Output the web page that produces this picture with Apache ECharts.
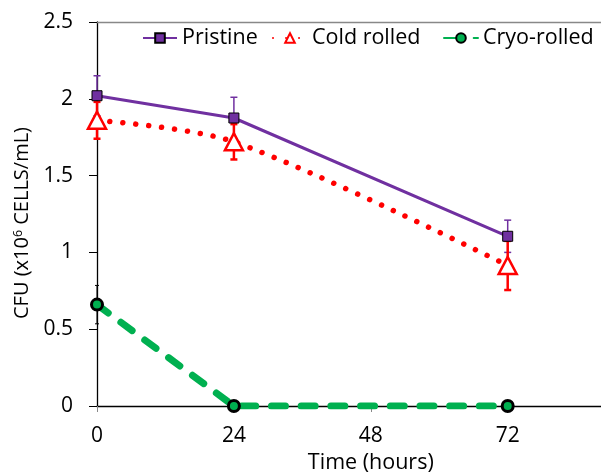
<!DOCTYPE html>
<html><head><meta charset="utf-8">
<script src="https://cdn.jsdelivr.net/npm/echarts@6/dist/echarts.min.js"></script>
<style>html,body{margin:0;padding:0;background:#fff}#c{width:601px;height:473px}</style>
</head><body><div id="c"></div>
<script>
// ---- data ----
const hours = [0, 24, 72];
const pristine = [2.02, 1.875, 1.105];
const pristineErr = [0.13, 0.135, 0.105];
const coldRolled = [1.86, 1.72, 0.915];
const coldErr = [0.12, 0.115, 0.16];
const cryo = [0.66, 0, 0];
const cryoErr = [0.125, 0, 0];
const xTicks = [0, 24, 48, 72];
const yTicks = [0, 0.5, 1, 1.5, 2, 2.5];
const seriesNames = ['Pristine', 'Cold rolled', 'Cryo-rolled'];

const FONT = 'Open Sans';
const PURPLE = '#7030A0', RED = '#FF0000', GREEN = '#00B050';

function pts(ys) { return hours.map((h, i) => [h, ys[i]]); }
function errData(ys, es) { return hours.map((h, i) => [h, ys[i], es[i]]); }

function errSeries(ys, es, color, width, cap) {
  return {
    type: 'custom',
    data: errData(ys, es),
    z: 1,
    silent: true,
    renderItem: function (params, api) {
      const x = api.value(0), y = api.value(1), e = api.value(2);
      if (!e) return null;
      const top = api.coord([x, y + e]);
      const bot = api.coord([x, y - e]);
      const st = { stroke: color, lineWidth: width };
      return {
        type: 'group',
        children: [
          { type: 'line', shape: { x1: top[0], y1: top[1], x2: bot[0], y2: bot[1] }, style: st },
          { type: 'line', shape: { x1: top[0] - cap, y1: top[1], x2: top[0] + cap, y2: top[1] }, style: st },
          { type: 'line', shape: { x1: bot[0] - cap, y1: bot[1], x2: bot[0] + cap, y2: bot[1] }, style: st }
        ]
      };
    }
  };
}

const chart = echarts.init(document.getElementById('c'), null, { renderer: 'canvas' });
const legendCommon = {
  top: 27, itemWidth: 34, itemHeight: 12, padding: 0,
  textStyle: { fontFamily: FONT, fontSize: 21.5, color: '#000' }
};
chart.setOption({
  animation: false,
  backgroundColor: '#fff',
  textStyle: { fontFamily: FONT },
  grid: { left: 97, top: 22, width: 547.6, height: 384, outerBoundsMode: 'none', containLabel: false },
  legend: [
    Object.assign({ left: 142, data: [seriesNames[0]] }, legendCommon),
    Object.assign({ left: 272, data: [seriesNames[1]] }, legendCommon),
    Object.assign({ left: 443, data: [seriesNames[2]] }, legendCommon)
  ],
  xAxis: [{
    type: 'value', min: 0, max: 96, interval: 24,
    name: 'Time (hours)', nameLocation: 'middle', nameGap: 44,
    nameTextStyle: { fontFamily: FONT, fontSize: 21.5, color: '#000' },
    axisLine: { lineStyle: { color: '#000', width: 1.3 } },
    axisTick: { show: true, length: 6, lineStyle: { color: '#888' } },
    axisLabel: { fontFamily: FONT, fontSize: 21, color: '#000', margin: 20,
      formatter: v => xTicks.indexOf(v) >= 0 ? String(v) : '' },
    splitLine: { show: false }
  }, {
    type: 'value', position: 'top', min: 0, max: 96,
    axisLine: { show: true, lineStyle: { color: '#888', width: 1.3 } },
    axisTick: { show: false }, axisLabel: { show: false }, splitLine: { show: false }
  }],
  yAxis: {
    type: 'value', min: 0, max: 2.5, interval: 0.5,
    name: '{a|CFU (x10}{s|6}{a| CELLS/mL)}',
    nameLocation: 'middle', nameGap: 62, nameRotate: 90,
    nameTextStyle: { padding: [0, 18, 0, 0], rich: {
      a: { fontFamily: FONT, fontSize: 20, color: '#000' },
      s: { fontFamily: FONT, fontSize: 12.5, color: '#000', verticalAlign: 'top', padding: [0, 0, 9, 0] }
    } },
    axisLine: { show: true, lineStyle: { color: '#000', width: 1.3 } },
    axisTick: { show: true, inside: false, length: 8, lineStyle: { color: '#000' } },
    axisLabel: { fontFamily: FONT, fontSize: 21, color: '#000', margin: 24,
      formatter: v => yTicks.indexOf(v) >= 0 ? String(v) : '' },
    splitLine: { show: false }
  },
  series: [
    errSeries(pristine, pristineErr, PURPLE, 1.5, 3.5),
    errSeries(coldRolled, coldErr, RED, 2.5, 3.5),
    errSeries(cryo, cryoErr, '#000', 1, 2),
    {
      name: seriesNames[0], type: 'line', data: pts(pristine), z: 3,
      lineStyle: { color: PURPLE, width: 3 },
      symbol: 'rect', symbolSize: 10,
      itemStyle: { color: PURPLE, borderColor: '#000', borderWidth: 1 }
    },
    {
      name: seriesNames[1], type: 'line', data: pts(coldRolled), z: 4, smooth: 0.3,
      lineStyle: { color: RED, width: 5.5, type: [0.01, 13], cap: 'round' },
      symbol: 'triangle', symbolSize: [18, 17],
      itemStyle: { color: '#fff', borderColor: RED, borderWidth: 2.5 }
    },
    {
      name: seriesNames[2], type: 'line', data: pts(cryo), z: 5,
      lineStyle: { color: GREEN, width: 7, type: [14, 15.7], cap: 'round' },
      symbol: 'circle', symbolSize: 11,
      itemStyle: { color: GREEN, borderColor: '#000', borderWidth: 3 }
    }
  ]
});
</script></body></html>
